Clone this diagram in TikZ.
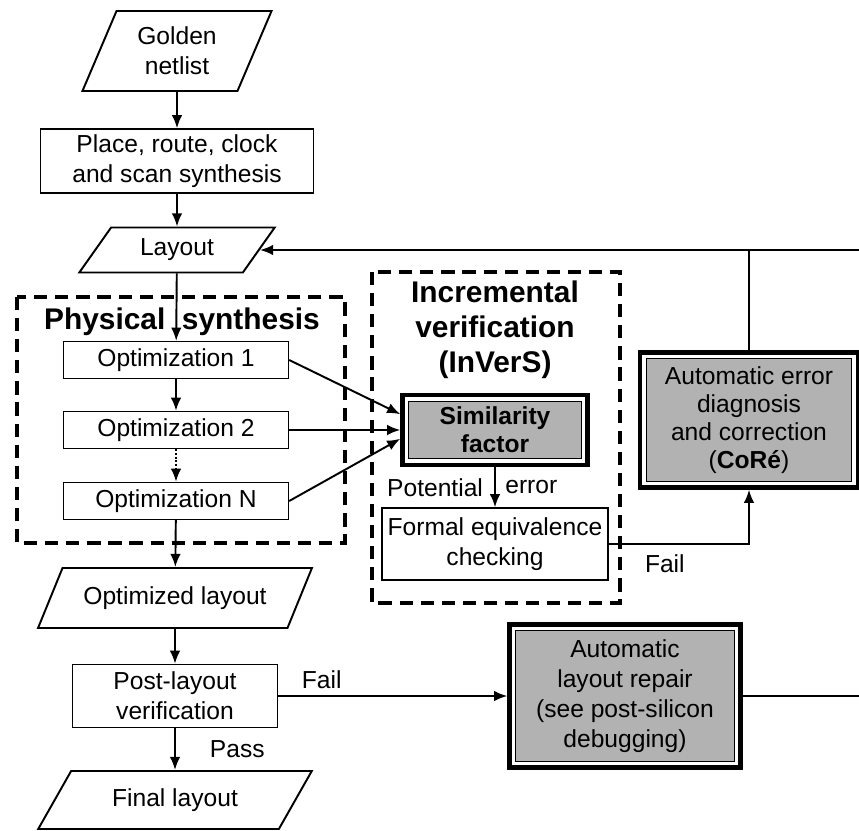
\documentclass[tikz,border=0pt]{standalone}
\usepackage{fontspec}
\setmainfont{Liberation Sans}
\usetikzlibrary{shapes.geometric,arrows.meta}

\tikzset{
  box/.style={draw, line width=0.8pt, align=center, inner sep=1pt},
  io/.style={trapezium, trapezium left angle=#1, trapezium right angle={180-#1},
    trapezium stretches=true, draw, line width=1.1pt, align=center, inner sep=0pt},
  grayblock/.style={draw, line width=2.5pt, fill=white, align=center,
    path picture={\draw[line width=0.6pt, fill=black!30]
      ([shift={(3.6pt,3.6pt)}]path picture bounding box.south west) rectangle
      ([shift={(-3.6pt,-3.6pt)}]path picture bounding box.north east);}},
  frame/.style={dash pattern=on 7.5pt off 4.5pt, line width=2.3pt},
  conn/.style={line width=1.1pt},
  title/.style={font=\fontsize{17}{20}\selectfont\bfseries, align=center}
}

\begin{document}
\begin{tikzpicture}[x=0.2mm, y=-0.2mm, >={Latex[length=7.5pt,width=6pt]},
    font=\fontsize{14}{17}\selectfont]
    \useasboundingbox (0,0) rectangle (859,830);

    \draw[frame] (17,297) rectangle (345,543);
    \draw[frame] (372,272) rectangle (620,603);

    \node[title] (phystitle) at (182,322) {Physical~~synthesis};
    \node[title] (inctitle) at (495,330) {Incremental\\verification\\(InVerS)};

\node[io=65, minimum width=38mm, minimum height=16mm] (golden) at (177,51) {Golden\\netlist};
\node[box, minimum width=54.6mm, minimum height=12.8mm] (place) at (177,161) {Place, route, clock\\and scan synthesis};
\node[io=51, minimum width=39.2mm, minimum height=9mm] (layout) at (177,250) {Layout};

\node[box, minimum width=45mm, minimum height=7.4mm] (opt1) at (176,360) {Optimization 1};
\node[box, minimum width=45mm, minimum height=7.4mm] (opt2) at (176,430) {Optimization 2};
\node[box, minimum width=45mm, minimum height=7.4mm] (optn) at (176,501) {Optimization N};

\node[io=49, minimum width=54.8mm, minimum height=12mm] (optlay) at (175,598) {Optimized layout};
\node[box, minimum width=41mm, minimum height=12.6mm] (post) at (175,696) {Post-layout\\verification};
\node[io=49, minimum width=54.8mm, minimum height=11.6mm] (final) at (175,800) {Final layout};

\node[grayblock, minimum width=37mm, minimum height=14mm, font=\fontsize{14}{16}\selectfont\bfseries] (sim) at (495,430) {Similarity\\factor};
\node[box, minimum width=45.2mm, minimum height=14.4mm] (formal) at (495,544) {Formal equivalence\\checking};
\node[grayblock, minimum width=43.6mm, minimum height=27mm, font=\fontsize{14}{16}\selectfont] (core) at (749,420) {Automatic error\\diagnosis\\and correction\\(\textbf{CoRé})};
\node[grayblock, minimum width=46.2mm, minimum height=28.6mm] (repair) at (625,696) {Automatic\\layout repair\\(see post-silicon\\debugging)};

\coordinate (rtop) at (859,250);
\coordinate (rbot) at (859,696);

\draw[conn,->] (golden) -- (place);
\draw[conn,->] (place) -- (layout);
\draw[conn,->] (layout) -- (opt1);
\draw[conn,->] (opt1) -- (opt2);
\draw[conn,->,densely dotted] (opt2) -- (optn);
\draw[conn,->] (optn) -- (optlay);
\draw[conn,->] (optlay) -- (post);
\draw[conn,->] (post) --node[right=16pt]{Pass} (final);
\draw[conn,->] (post) --node[pos=.19, above]{Fail} (repair);

\draw[conn,->] (opt1.east) -- ([yshift=9pt]sim.west);
\draw[conn,->] (opt2.east) -- (sim.west);
\draw[conn,->] (optn.east) -- ([yshift=-5pt]sim.west);

\draw[conn,->] (sim) --node[left=3pt]{Potential} node[right=2pt]{error} (formal);
\draw[conn,->] (formal.east) -| node[pos=.2, below=2pt]{Fail} (core.south);

\draw[conn] (core.north) -- (core.north |- rtop);
\draw[conn,->] (rtop) -- (layout);
\draw[conn] (repair.east) -- (rbot);

\end{tikzpicture}
\end{document}
